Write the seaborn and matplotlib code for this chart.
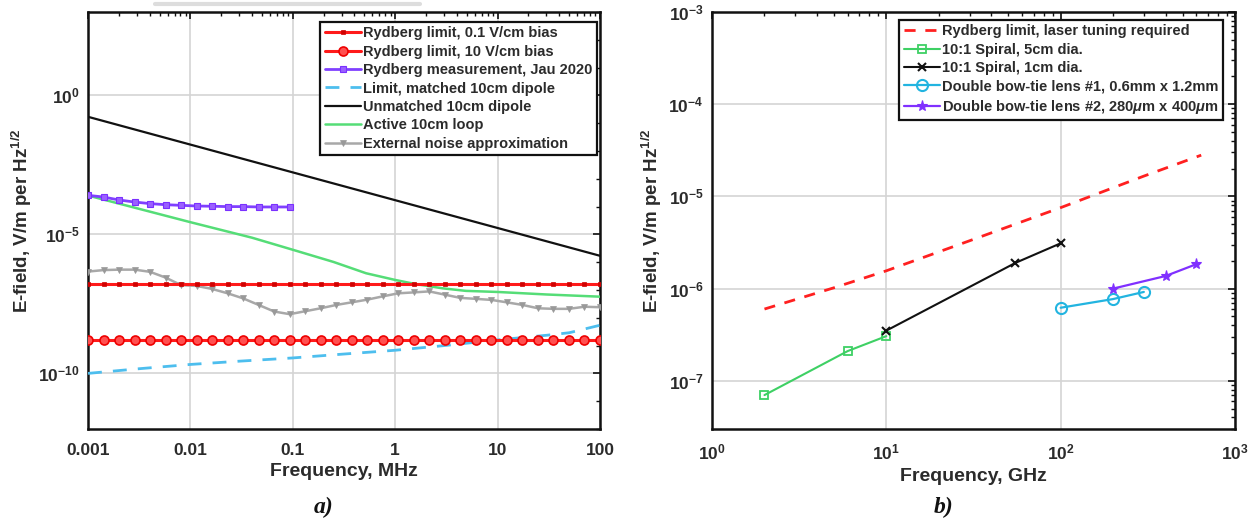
import numpy as np
import pandas as pd
import matplotlib
matplotlib.use("Agg")
import matplotlib.pyplot as plt
from matplotlib.ticker import FixedLocator, LogLocator, NullFormatter
import seaborn as sns

# ---------------- panel a): field sensitivity vs frequency (MHz) ----------------
freq_mhz = [0.001, 0.00142, 0.00201, 0.00285, 0.00404, 0.00572, 0.00811, 0.0115,
            0.0163, 0.0231, 0.0327, 0.0464, 0.0658, 0.0933, 0.132, 0.187, 0.266,
            0.376, 0.534, 0.756, 1.07, 1.52, 2.15, 3.05, 4.33, 6.14, 8.70, 12.3,
            17.5, 24.8, 35.1, 49.8, 70.5, 100.0]

rydberg_low_bias_level = 1.6e-7     # 0.1 V/cm bias
rydberg_high_bias_level = 1.55e-9   # 10 V/cm bias

meas_freq = freq_mhz[:14]
meas_field = [2.54e-4, 2.21e-4, 1.73e-4, 1.46e-4, 1.28e-4, 1.17e-4, 1.11e-4,
              1.05e-4, 1.03e-4, 1.0e-4, 1.0e-4, 9.7e-5, 9.7e-5, 9.7e-5]

matched_freq = [0.001, 0.003, 0.01, 0.03, 0.1, 0.3, 1, 3, 10, 30, 50, 100]
matched_field = [1.0e-10, 1.45e-10, 2.1e-10, 2.75e-10, 3.6e-10, 4.9e-10, 6.8e-10,
                 1.0e-9, 1.6e-9, 2.35e-9, 2.9e-9, 5.4e-9]

unmatched_freq = [0.001, 100]
unmatched_field = [0.17, 1.7e-6]

loop_freq = [0.001, 0.01, 0.04, 0.1, 0.25, 0.52, 1, 1.6, 2.9, 4.9, 10, 30, 100]
loop_field = [2.5e-4, 2.75e-5, 7.6e-6, 2.8e-6, 1.02e-6, 4.0e-7, 2.3e-7, 1.62e-7,
              1.15e-7, 9.3e-8, 8.5e-8, 6.9e-8, 5.75e-8]

noise_field = [4.6e-7, 5.2e-7, 5.4e-7, 5.4e-7, 4.5e-7, 2.8e-7, 1.5e-7, 1.4e-7,
               1.09e-7, 7.6e-8, 5.0e-8, 2.9e-8, 1.68e-8, 1.35e-8, 1.72e-8, 2.2e-8,
               2.9e-8, 3.6e-8, 4.5e-8, 5.9e-8, 7.6e-8, 8.2e-8, 8.9e-8, 6.8e-8,
               5.2e-8, 4.8e-8, 4.4e-8, 3.6e-8, 2.9e-8, 2.2e-8, 2.1e-8, 2.1e-8,
               2.5e-8, 2.4e-8]

# ---------------- panel b): field sensitivity vs frequency (GHz) ----------------
laser_freq = [2, 5, 10, 30, 100, 300, 640]
laser_field = [6.0e-7, 1.02e-6, 1.56e-6, 3.3e-6, 7.55e-6, 1.66e-5, 2.8e-5]

spiral5_freq = [2, 6, 10]
spiral5_field = [7.0e-8, 2.1e-7, 3.05e-7]

spiral1_freq = [10, 55, 100]
spiral1_field = [3.5e-7, 1.9e-6, 3.1e-6]

bowtie1_freq = [100, 200, 300]
bowtie1_field = [6.2e-7, 7.7e-7, 9.2e-7]

bowtie2_freq = [200, 400, 600]
bowtie2_field = [1.0e-6, 1.37e-6, 1.84e-6]

# ---------------- styling ----------------
sns.set_theme(style="white")
plt.rcParams["font.family"] = ["Liberation Sans", "DejaVu Sans"]
plt.rcParams["font.weight"] = "bold"
plt.rcParams["mathtext.fontset"] = "custom"
plt.rcParams["mathtext.rm"] = "Liberation Sans:bold"
plt.rcParams["mathtext.bf"] = "Liberation Sans:bold"
plt.rcParams["mathtext.it"] = "Liberation Sans:italic:bold"
plt.rcParams["mathtext.sf"] = "Liberation Sans:bold"
plt.rcParams["mathtext.default"] = "rm"

TXT = "#2b2b2b"
TICK_FS = 12.5
LABEL_FS = 14
LEG_FS = 10.5

fig = plt.figure(figsize=(12.56, 5.29), dpi=100)
ax_a = fig.add_axes([88 / 1256, 100 / 529, 512 / 1256, 417 / 529])
ax_b = fig.add_axes([712 / 1256, 100 / 529, 523 / 1256, 417 / 529])

for ax in (ax_a, ax_b):
    ax.set_xscale("log")
    ax.set_yscale("log")


def draw(ax, x, y, label, **kw):
    df = pd.DataFrame({"f": x, "e": y})
    sns.lineplot(data=df, x="f", y="e", ax=ax, label=label, sort=False,
                 estimator=None, **kw)


# panel a series
n = len(freq_mhz)
draw(ax_a, freq_mhz, [rydberg_low_bias_level] * n, "Rydberg limit, 0.1 V/cm bias",
     color="#ff1a1a", lw=2.2, marker="s", markersize=3.2,
     markerfacecolor="#d00000", markeredgecolor="#d00000", markeredgewidth=0.5, zorder=4)
draw(ax_a, freq_mhz, [rydberg_high_bias_level] * n, "Rydberg limit, 10 V/cm bias",
     color="#ff1a1a", lw=2.2, marker="o", markersize=6.5,
     markerfacecolor="#ff5050", markeredgecolor="#ee0000", markeredgewidth=1.2, zorder=4)
draw(ax_a, meas_freq, meas_field, "Rydberg measurement, Jau 2020",
     color="#8040ff", lw=2.0, marker="s", markersize=5,
     markerfacecolor="#9a60ff", markeredgecolor="#7a30ff", markeredgewidth=0.8, zorder=5)
draw(ax_a, matched_freq, matched_field, "Limit, matched 10cm dipole",
     color="#4dbeee", lw=2.0, linestyle=(0, (5, 4)), zorder=3)
draw(ax_a, unmatched_freq, unmatched_field, "Unmatched 10cm dipole",
     color="#111111", lw=1.6, zorder=3)
draw(ax_a, loop_freq, loop_field, "Active 10cm loop",
     color="#55dd77", lw=1.8, zorder=3)
draw(ax_a, freq_mhz, noise_field, "External noise approximation",
     color="#a8a8a8", lw=1.8, marker="v", markersize=4.5,
     markerfacecolor="#999999", markeredgecolor="#999999", markeredgewidth=0.5, zorder=3)

# panel b series
draw(ax_b, laser_freq, laser_field, "Rydberg limit, laser tuning required",
     color="#ff2020", lw=2.0, linestyle=(0, (4, 3.5)), zorder=3)
draw(ax_b, spiral5_freq, spiral5_field, "10:1 Spiral, 5cm dia.",
     color="#3ed064", lw=1.5, marker="s", markersize=6,
     markerfacecolor="none", markeredgecolor="#3ed064", markeredgewidth=1.3, zorder=4)
draw(ax_b, spiral1_freq, spiral1_field, "10:1 Spiral, 1cm dia.",
     color="#111111", lw=1.5, marker="x", markersize=6,
     markeredgecolor="#111111", markeredgewidth=1.5, zorder=5)
draw(ax_b, bowtie1_freq, bowtie1_field, "Double bow-tie lens #1, 0.6mm x 1.2mm",
     color="#22b4e0", lw=1.6, marker="o", markersize=8,
     markerfacecolor="none", markeredgecolor="#22b4e0", markeredgewidth=1.5, zorder=4)
draw(ax_b, bowtie2_freq, bowtie2_field,
     r"Double bow-tie lens #2, 280$\mathit{\mu}$m x 400$\mathit{\mu}$m",
     color="#8030ff", lw=1.6, marker="*", markersize=8,
     markerfacecolor="#8030ff", markeredgecolor="#8030ff", markeredgewidth=0.8, zorder=4)

# ---------------- axes, ticks, grid ----------------
ax_a.set_xlim(1e-3, 1e2)
ax_a.set_ylim(1e-12, 1e3)
ax_a.xaxis.set_major_locator(FixedLocator([1e-3, 1e-2, 1e-1, 1, 10, 100]))
ax_a.set_xticklabels(["0.001", "0.01", "0.1", "1", "10", "100"])
ax_a.xaxis.set_minor_locator(LogLocator(base=10, subs=np.arange(2, 10), numticks=20))
ax_a.xaxis.set_minor_formatter(NullFormatter())
ax_a.yaxis.set_major_locator(FixedLocator([1e-10, 1e-5, 1e0]))
ax_a.set_yticklabels([r"$10^{-10}$", r"$10^{-5}$", r"$10^{0}$"])
ax_a.yaxis.set_minor_locator(FixedLocator([10.0 ** k for k in range(-12, 4)
                                           if k not in (-10, -5, 0)]))
ax_a.yaxis.set_minor_formatter(NullFormatter())
ax_a.set_xlabel("Frequency, MHz", fontsize=LABEL_FS, fontweight="bold", color=TXT,
                labelpad=4)
ax_a.set_ylabel(r"E-field, V/m per Hz$^{1/2}$", fontsize=13.5, fontweight="bold",
                color=TXT, labelpad=3)

ax_b.set_xlim(1, 1e3)
ax_b.set_ylim(3e-8, 1e-3)
ax_b.xaxis.set_major_locator(FixedLocator([1, 10, 100, 1000]))
ax_b.set_xticklabels([r"$10^{0}$", r"$10^{1}$", r"$10^{2}$", r"$10^{3}$"])
ax_b.xaxis.set_minor_locator(LogLocator(base=10, subs=np.arange(2, 10), numticks=20))
ax_b.xaxis.set_minor_formatter(NullFormatter())
ax_b.yaxis.set_major_locator(FixedLocator([1e-7, 1e-6, 1e-5, 1e-4, 1e-3]))
ax_b.set_yticklabels([r"$10^{-7}$", r"$10^{-6}$", r"$10^{-5}$", r"$10^{-4}$", r"$10^{-3}$"])
ax_b.yaxis.set_minor_locator(LogLocator(base=10, subs=np.arange(2, 10), numticks=20))
ax_b.yaxis.set_minor_formatter(NullFormatter())
ax_b.set_xlabel("Frequency, GHz", fontsize=LABEL_FS, fontweight="bold", color=TXT,
                labelpad=4)
ax_b.set_ylabel(r"E-field, V/m per Hz$^{1/2}$", fontsize=13.5, fontweight="bold",
                color=TXT, labelpad=3)

for ax in (ax_a, ax_b):
    ax.grid(True, which="major", color="#d4d4d4", lw=1.2)
    ax.grid(False, which="minor")
    ax.set_axisbelow(True)
    ax.tick_params(which="both", direction="in", top=True, right=True,
                   colors="#111111", labelcolor=TXT, labelsize=TICK_FS)
    ax.tick_params(which="major", length=5, width=1.2, pad=6)
    ax.tick_params(which="minor", length=3, width=1.0)
    ax.tick_params(axis="x", which="major", pad=10)
    for s in ax.spines.values():
        s.set_color("#111111")
        s.set_linewidth(1.8)
        s.set_visible(True)

# ---------------- legends ----------------
leg_kw = dict(loc="upper right", frameon=True, fancybox=False,
              framealpha=1.0, edgecolor="#111111", borderaxespad=0.0,
              handlelength=2.5, handletextpad=0.15, labelspacing=0.3,
              borderpad=0.3, prop={"weight": "bold", "size": LEG_FS})
leg_a = ax_a.legend(bbox_to_anchor=(0.994, 0.976), **leg_kw)
leg_b = ax_b.legend(bbox_to_anchor=(0.977, 0.981), **leg_kw)
for leg in (leg_a, leg_b):
    leg.get_frame().set_linewidth(1.6)
    for t in leg.get_texts():
        t.set_color(TXT)

# faint bar above panel a
fig.add_artist(plt.Line2D([155 / 1256, 420 / 1256], [1 - 4 / 529, 1 - 4 / 529],
                          transform=fig.transFigure, color="#dddddd", lw=3))

# panel captions
caption_font = dict(family=["Liberation Serif", "DejaVu Serif"], weight="bold",
                    style="italic", size=17, color="#111111")
fig.text(324 / 1256, 1 - 507 / 529, "a)", ha="center", va="center", **caption_font)
fig.text(944 / 1256, 1 - 507 / 529, "b)", ha="center", va="center", **caption_font)

fig.savefig("out.png", dpi=100, facecolor="white")
